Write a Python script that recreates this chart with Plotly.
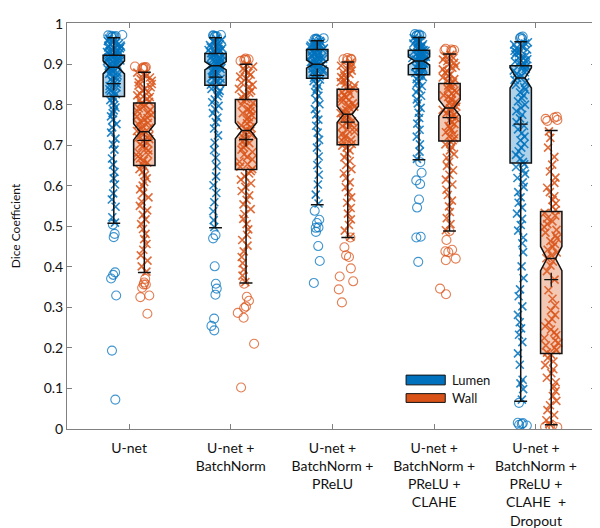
import plotly.graph_objects as go

categories = [
    "U-net",
    "U-net +<br>BatchNorm",
    "U-net +<br>BatchNorm +<br>PReLU",
    "U-net +<br>BatchNorm +<br>PReLU +<br>CLAHE",
    "U-net +<br>BatchNorm +<br>PReLU +<br>CLAHE  +<br>Dropout",
]

y_tick_values = [0, 0.1, 0.2, 0.3, 0.4, 0.5, 0.6, 0.7, 0.8, 0.9, 1]
y_tick_labels = ["0", "0.1", "0.2", "0.3", "0.4", "0.5", "0.6", "0.7", "0.8", "0.9", "1"]

# ---- Lumen box statistics ----
lumen_q1 = [0.820, 0.848, 0.865, 0.874, 0.656]
lumen_median = [0.892, 0.896, 0.900, 0.908, 0.866]
lumen_q3 = [0.922, 0.926, 0.936, 0.934, 0.896]
lumen_lower = [0.507, 0.496, 0.553, 0.664, 0.068]
lumen_upper = [0.965, 0.965, 0.958, 0.966, 0.955]
lumen_mean = [0.852, 0.868, 0.872, 0.889, 0.752]
lumen_notch = [0.016, 0.010, 0.010, 0.010, 0.025]

# ---- Wall box statistics ----
wall_q1 = [0.650, 0.640, 0.701, 0.710, 0.186]
wall_median = [0.733, 0.736, 0.776, 0.792, 0.420]
wall_q3 = [0.804, 0.813, 0.838, 0.852, 0.536]
wall_lower = [0.386, 0.360, 0.472, 0.488, 0.010]
wall_upper = [0.880, 0.900, 0.905, 0.925, 0.736]
wall_mean = [0.712, 0.714, 0.757, 0.768, 0.368]
wall_notch = [0.020, 0.020, 0.020, 0.020, 0.030]

# ---- Per-image Dice values (estimated from the point clouds) ----
lumen_points = [
    [0.509, 0.522, 0.548, 0.566, 0.581, 0.603, 0.618, 0.634, 0.652, 0.667, 0.689, 0.702, 0.716, 0.731, 0.744, 0.752,
     0.763, 0.771, 0.779, 0.786, 0.793, 0.799, 0.806, 0.811, 0.816, 0.821, 0.826, 0.829, 0.834, 0.838, 0.843, 0.846,
     0.851, 0.855, 0.858, 0.862, 0.866, 0.869, 0.872, 0.876, 0.879, 0.881, 0.884, 0.887, 0.889, 0.892, 0.894, 0.896,
     0.899, 0.901, 0.903, 0.905, 0.907, 0.909, 0.911, 0.912, 0.914, 0.916, 0.918, 0.919, 0.921, 0.923, 0.925, 0.927,
     0.928, 0.930, 0.932, 0.934, 0.936, 0.937, 0.939, 0.941, 0.943, 0.945, 0.946, 0.948, 0.950, 0.952, 0.954, 0.957,
     0.960, 0.963],
    [0.498, 0.515, 0.537, 0.559, 0.582, 0.601, 0.623, 0.648, 0.669, 0.688, 0.706, 0.724, 0.741, 0.757, 0.768, 0.779,
     0.789, 0.797, 0.806, 0.813, 0.821, 0.828, 0.834, 0.839, 0.844, 0.849, 0.853, 0.857, 0.861, 0.864, 0.868, 0.871,
     0.874, 0.877, 0.880, 0.883, 0.885, 0.888, 0.890, 0.892, 0.894, 0.896, 0.898, 0.900, 0.902, 0.904, 0.906, 0.908,
     0.910, 0.912, 0.914, 0.916, 0.918, 0.920, 0.922, 0.924, 0.927, 0.929, 0.931, 0.933, 0.935, 0.937, 0.939, 0.941,
     0.943, 0.945, 0.947, 0.949, 0.951, 0.954, 0.957, 0.960, 0.963],
    [0.556, 0.578, 0.603, 0.627, 0.651, 0.672, 0.694, 0.713, 0.731, 0.748, 0.763, 0.776, 0.789, 0.801, 0.812, 0.822,
     0.831, 0.839, 0.846, 0.852, 0.858, 0.862, 0.866, 0.870, 0.873, 0.876, 0.879, 0.882, 0.885, 0.887, 0.889, 0.891,
     0.893, 0.895, 0.897, 0.899, 0.901, 0.903, 0.905, 0.907, 0.909, 0.911, 0.913, 0.915, 0.917, 0.919, 0.921, 0.923,
     0.925, 0.927, 0.929, 0.931, 0.933, 0.935, 0.937, 0.939, 0.940, 0.942, 0.943, 0.945, 0.946, 0.948, 0.949, 0.951,
     0.953, 0.955, 0.957],
    [0.666, 0.684, 0.702, 0.721, 0.738, 0.753, 0.767, 0.780, 0.792, 0.803, 0.813, 0.822, 0.831, 0.839, 0.846, 0.852,
     0.858, 0.863, 0.868, 0.871, 0.875, 0.878, 0.881, 0.884, 0.887, 0.889, 0.891, 0.893, 0.895, 0.897, 0.899, 0.901,
     0.903, 0.905, 0.906, 0.908, 0.910, 0.911, 0.913, 0.915, 0.916, 0.918, 0.920, 0.921, 0.923, 0.925, 0.926, 0.928,
     0.930, 0.932, 0.933, 0.935, 0.937, 0.939, 0.941, 0.943, 0.945, 0.947, 0.949, 0.951, 0.953, 0.955, 0.958, 0.961,
     0.964],
    [0.072, 0.098, 0.112, 0.121, 0.158, 0.186, 0.214, 0.232, 0.248, 0.263, 0.281, 0.302, 0.327, 0.344, 0.372, 0.401,
     0.436, 0.458, 0.472, 0.489, 0.503, 0.518, 0.531, 0.546, 0.558, 0.571, 0.584, 0.597, 0.608, 0.619, 0.629, 0.638,
     0.646, 0.653, 0.658, 0.667, 0.676, 0.685, 0.694, 0.703, 0.712, 0.721, 0.730, 0.739, 0.748, 0.757, 0.766, 0.775,
     0.784, 0.792, 0.800, 0.808, 0.816, 0.823, 0.830, 0.837, 0.843, 0.849, 0.855, 0.861, 0.866, 0.871, 0.876, 0.880,
     0.884, 0.888, 0.892, 0.895, 0.897, 0.900, 0.903, 0.906, 0.909, 0.912, 0.915, 0.918, 0.921, 0.924, 0.927, 0.930,
     0.933, 0.936, 0.939, 0.942, 0.945, 0.948, 0.951, 0.954],
]

wall_points = [
    [0.388, 0.401, 0.415, 0.428, 0.442, 0.456, 0.468, 0.481, 0.493, 0.505, 0.517, 0.528, 0.539, 0.550, 0.561, 0.571,
     0.581, 0.591, 0.600, 0.609, 0.618, 0.626, 0.634, 0.641, 0.647, 0.652, 0.657, 0.662, 0.667, 0.672, 0.677, 0.682,
     0.687, 0.692, 0.697, 0.702, 0.706, 0.711, 0.715, 0.719, 0.723, 0.727, 0.731, 0.735, 0.739, 0.743, 0.747, 0.751,
     0.755, 0.759, 0.763, 0.767, 0.771, 0.775, 0.779, 0.783, 0.787, 0.791, 0.795, 0.799, 0.803, 0.807, 0.811, 0.815,
     0.819, 0.823, 0.827, 0.831, 0.835, 0.839, 0.843, 0.847, 0.851, 0.855, 0.859, 0.863, 0.867, 0.871, 0.875, 0.879],
    [0.362, 0.378, 0.393, 0.409, 0.424, 0.438, 0.452, 0.466, 0.479, 0.492, 0.505, 0.518, 0.530, 0.542, 0.554, 0.565,
     0.576, 0.587, 0.597, 0.606, 0.615, 0.623, 0.630, 0.636, 0.641, 0.647, 0.653, 0.659, 0.665, 0.671, 0.677, 0.683,
     0.689, 0.695, 0.700, 0.705, 0.710, 0.715, 0.720, 0.725, 0.730, 0.735, 0.739, 0.744, 0.749, 0.754, 0.759, 0.764,
     0.769, 0.774, 0.779, 0.784, 0.789, 0.794, 0.799, 0.804, 0.809, 0.814, 0.819, 0.824, 0.829, 0.834, 0.839, 0.844,
     0.849, 0.854, 0.859, 0.864, 0.869, 0.874, 0.879, 0.884, 0.889, 0.894, 0.899],
    [0.474, 0.489, 0.503, 0.517, 0.531, 0.545, 0.558, 0.571, 0.584, 0.596, 0.608, 0.619, 0.630, 0.641, 0.651, 0.661,
     0.670, 0.679, 0.687, 0.694, 0.699, 0.703, 0.708, 0.713, 0.718, 0.723, 0.728, 0.733, 0.738, 0.743, 0.747, 0.751,
     0.755, 0.759, 0.763, 0.767, 0.771, 0.775, 0.779, 0.783, 0.787, 0.791, 0.795, 0.799, 0.803, 0.807, 0.811, 0.815,
     0.819, 0.823, 0.827, 0.831, 0.835, 0.840, 0.844, 0.848, 0.852, 0.856, 0.860, 0.864, 0.868, 0.872, 0.876, 0.880,
     0.884, 0.888, 0.892, 0.896, 0.900, 0.904],
    [0.490, 0.505, 0.520, 0.535, 0.549, 0.563, 0.577, 0.590, 0.603, 0.615, 0.627, 0.638, 0.649, 0.659, 0.669, 0.678,
     0.687, 0.695, 0.702, 0.708, 0.712, 0.717, 0.722, 0.727, 0.732, 0.737, 0.742, 0.747, 0.752, 0.757, 0.762, 0.767,
     0.771, 0.775, 0.779, 0.783, 0.787, 0.791, 0.795, 0.799, 0.803, 0.807, 0.811, 0.815, 0.819, 0.823, 0.827, 0.831,
     0.835, 0.839, 0.843, 0.847, 0.851, 0.855, 0.859, 0.863, 0.867, 0.871, 0.875, 0.879, 0.883, 0.887, 0.891, 0.895,
     0.899, 0.903, 0.907, 0.911, 0.915, 0.919, 0.923],
    [0.012, 0.021, 0.034, 0.046, 0.058, 0.069, 0.081, 0.093, 0.104, 0.115, 0.126, 0.137, 0.147, 0.157, 0.166, 0.175,
     0.183, 0.188, 0.194, 0.200, 0.206, 0.212, 0.218, 0.224, 0.231, 0.238, 0.245, 0.253, 0.262, 0.271, 0.281, 0.292,
     0.305, 0.321, 0.342, 0.368, 0.389, 0.403, 0.413, 0.421, 0.428, 0.435, 0.442, 0.449, 0.456, 0.463, 0.470, 0.477,
     0.484, 0.491, 0.498, 0.505, 0.512, 0.519, 0.526, 0.533, 0.540, 0.548, 0.556, 0.565, 0.574, 0.584, 0.595, 0.607,
     0.620, 0.635, 0.652, 0.671, 0.694, 0.718, 0.734],
]

# ---- Outliers (circles) ----
lumen_outliers = [
    [0.970, 0.968, 0.972, 0.966, 0.969, 0.971, 0.967, 0.504, 0.481, 0.473, 0.386, 0.380, 0.371, 0.329, 0.193, 0.072],
    [0.970, 0.968, 0.972, 0.967, 0.969, 0.971, 0.478, 0.470, 0.401, 0.358, 0.346, 0.331, 0.272, 0.254, 0.243],
    [0.962, 0.960, 0.964, 0.958, 0.961, 0.963, 0.538, 0.516, 0.508, 0.497, 0.496, 0.486, 0.451, 0.414, 0.360],
    [0.972, 0.970, 0.974, 0.969, 0.971, 0.973, 0.658, 0.632, 0.613, 0.604, 0.566, 0.546, 0.474, 0.472, 0.412],
    [0.968, 0.966, 0.962, 0.964, 0.064, 0.015, 0.012, 0.010, 0.014, 0.008],
]
wall_outliers = [
    [0.892, 0.890, 0.894, 0.888, 0.891, 0.893, 0.370, 0.361, 0.356, 0.356, 0.348, 0.329, 0.325, 0.284],
    [0.912, 0.910, 0.914, 0.908, 0.911, 0.358, 0.326, 0.316, 0.302, 0.298, 0.286, 0.274, 0.210, 0.102],
    [0.913, 0.911, 0.915, 0.909, 0.912, 0.472, 0.448, 0.428, 0.424, 0.396, 0.376, 0.364, 0.344, 0.312],
    [0.936, 0.934, 0.938, 0.932, 0.935, 0.488, 0.466, 0.442, 0.438, 0.436, 0.420, 0.416, 0.346, 0.332],
    [0.768, 0.762, 0.770, 0.765, 0.760, 0.006, 0.004, 0.008, 0.005],
]

series_names = ["Lumen", "Wall"]
series_colors = ["#0072BD", "#D95319"]
series_fills = ["rgba(0,114,189,0.32)", "rgba(217,83,25,0.32)"]

FONT = "Lato, 'Open Sans', Arial, sans-serif"
NONE = "rgba(0,0,0,0)"


def flatten(groups):
    xs, ys = [], []
    for cat, vals in zip(categories, groups):
        xs += [cat] * len(vals)
        ys += list(vals)
    return xs, ys


fig = go.Figure()

stats = [
    (lumen_q1, lumen_median, lumen_q3, lumen_lower, lumen_upper, lumen_mean, lumen_notch, lumen_points, lumen_outliers),
    (wall_q1, wall_median, wall_q3, wall_lower, wall_upper, wall_mean, wall_notch, wall_points, wall_outliers),
]

for name, color, fill, st in zip(series_names, series_colors, series_fills, stats):
    q1, med, q3, lo, hi, mean, notch, pts, outs = st
    og = name
    # light box fill (behind points)
    fig.add_trace(go.Box(
        x=categories, q1=q1, median=med, q3=q3, lowerfence=lo, upperfence=hi,
        notched=True, notchspan=notch, notchwidth=0.3,
        fillcolor=fill, line=dict(color=NONE, width=0), boxpoints=False,
        offsetgroup=og, name=name, showlegend=False, hoverinfo="skip"))
    # point cloud
    xs, ys = flatten(pts)
    fig.add_trace(go.Box(
        x=xs, y=ys, boxpoints="all", jitter=0.7, pointpos=0,
        fillcolor=NONE, line=dict(color=NONE, width=0),
        marker=dict(symbol="x-thin-open", size=8, color=color, opacity=0.85,
                    line=dict(width=1.6, color=color)),
        offsetgroup=og, name=name, showlegend=False, hoverinfo="skip"))
    # outliers
    xo, yo = flatten(outs)
    fig.add_trace(go.Box(
        x=xo, y=yo, boxpoints="all", jitter=0.9, pointpos=0,
        fillcolor=NONE, line=dict(color=NONE, width=0),
        marker=dict(symbol="circle-open", size=9, color=color, opacity=0.75,
                    line=dict(width=1.1, color=color)),
        offsetgroup=og, name=name, showlegend=False, hoverinfo="skip"))
    # box outline on top
    fig.add_trace(go.Box(
        x=categories, q1=q1, median=med, q3=q3, lowerfence=lo, upperfence=hi,
        notched=True, notchspan=notch, notchwidth=0.3, whiskerwidth=0.6,
        fillcolor=NONE, line=dict(color="#111111", width=1.5), boxpoints=False,
        offsetgroup=og, name=name, showlegend=False, hoverinfo="skip"))
    # mean markers
    fig.add_trace(go.Box(
        x=categories, y=mean, boxpoints="all", jitter=0, pointpos=0,
        fillcolor=NONE, line=dict(color=NONE, width=0),
        marker=dict(symbol="cross-thin-open", size=10, color="#111111",
                    line=dict(width=1.3, color="#111111")),
        offsetgroup=og, name=name, showlegend=False, hoverinfo="skip"))

# legend drawn as rectangles + labels inside the plot
legend_rows = [(0.1327, 0.1087, 0.120), (0.0871, 0.0655, 0.0763)]
for name, color, (y0, y1, yt) in zip(series_names, series_colors, legend_rows):
    fig.add_shape(type="rect", xref="paper", yref="paper", x0=0.641, x1=0.715, y0=y1, y1=y0,
                  fillcolor=color, line=dict(color="#111111", width=1))
    fig.add_annotation(xref="paper", yref="paper", x=0.724, y=yt, text=name, showarrow=False,
                       xanchor="left", yanchor="middle", font=dict(family=FONT, size=13, color="#111111"))

fig.update_layout(
    width=600, height=528,
    margin=dict(l=59, r=12, t=7, b=105),
    paper_bgcolor="white", plot_bgcolor="white",
    boxmode="group", boxgap=0.4, boxgroupgap=0.3,
    showlegend=False,
    font=dict(family=FONT, size=14, color="#111111"),
    xaxis=dict(
        type="category", categoryorder="array", categoryarray=categories,
        range=[-0.61, 4.59], showline=True, linecolor="#808080", linewidth=1, mirror="ticks",
        ticks="inside", ticklen=5, tickcolor="#808080", showgrid=False, zeroline=False,
        tickfont=dict(family=FONT, size=14, color="#111111"), ticklabelstandoff=6,
    ),
    yaxis=dict(
        range=[-0.0005, 1.0015], tickmode="array", tickvals=y_tick_values, ticktext=y_tick_labels,
        showline=True, linecolor="#808080", linewidth=1,
        mirror="ticks", ticks="inside", ticklen=5, tickcolor="#808080", showgrid=False,
        zeroline=False, tickfont=dict(family=FONT, size=14, color="#111111"),
        ticklabeloverflow="allow",
        title=dict(text="Dice Coefficient", font=dict(family=FONT, size=12, color="#111111"), standoff=20),
    ),
)

fig.write_html("out.html")
